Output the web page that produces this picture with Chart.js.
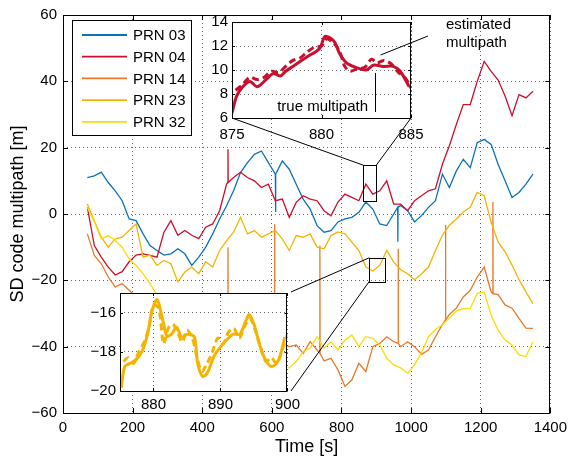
<!DOCTYPE html>
<html>
<head>
<meta charset="utf-8">
<script src="https://cdn.jsdelivr.net/npm/chart.js@4.4.0/dist/chart.umd.min.js"></script>
<style>
  html, body { margin: 0; padding: 0; background: #fff; }
  #wrap { position: relative; width: 573px; height: 460px; overflow: hidden; }
  #wrap canvas { position: absolute; }
</style>
</head>
<body>
<div id="wrap">
  <canvas id="mainChart" width="573" height="460"></canvas>
  <canvas id="zoomTop"></canvas>
  <canvas id="zoomBottom"></canvas>
</div>
<script>
/* ---------- data ---------- */
const timeGrid = [70, 90, 110, 130, 150, 170, 190, 210, 230, 250, 270, 290, 310, 330, 350, 370, 390, 410, 430, 450,
  470, 490, 510, 530, 550, 570, 590, 610, 630, 650, 670, 690, 710, 730, 750, 770, 790, 810, 830, 850,
  870, 890, 910, 930, 950, 970, 990, 1010, 1030, 1050, 1070, 1090, 1110, 1130, 1150, 1170, 1190, 1210, 1230, 1250,
  1270, 1290, 1310, 1330, 1350];

const prn03 = [11, 11.5, 12.6, 9.5, 7, 4, -1.5, -2, -6, -9.5, -11, -12.4, -12, -10.5, -12, -15.5, -13, -10, -6, -1.5,
  2.5, 7, 12.5, 15.5, 18, 19, 15.5, 12, 16, 13.5, 9, 4.5, 1.5, -3.5, -5.5, -5, -2.4, -1.5, -1, 0.5,
  3.6, 1.5, -3, -3.5, 0, 2.6, 1, -2.4, -0.5, 2, 4, 12, 8, 13, 16.5, 14, 21.5, 22.5, 21, 15,
  10, 5, 6.5, 9, 12];
const prn03SpikeTime = [611, 962];
const prn03SpikeTop = [0.6, -8.4];
const prn03SpikeBase = [12, 2];

const prn04 = [2, -9.5, -13, -16, -18.4, -17.4, -14.4, -12.4, -12, -12.5, -13, -5.5, -2, -6.4, -5, -6.4, -7.4, -4, -3, 1,
  9, 11, 12.6, 11, 10, 8, 9, 4, 4.5, -1, 3.5, 5.5, 4.5, 4, 1, -0.5, 3.6, 6, 5, 4,
  9, 6, 7, 10, 3, 3, 1, 4, 5.5, 7, 7.6, 15, 20.6, 27, 33, 33, 40, 46, 43, 40.4,
  35.6, 29.6, 36, 35, 37];
const prn04SpikeTime = [474];
const prn04SpikeTop = [19.5];
const prn04SpikeBase = [9.5];

const prn14 = [-6, -12.5, -15, -19, -22, -21, -23, -25, -28, -30, -31, -33, -34, -35, -36, -37, -38, -38, -39, -38,
  -39, -40, -40, -41, -40, -41, -40, -40, -39, -40, -39.5, -42, -38.5, -41, -44.3, -43.5, -47, -52, -50, -45,
  -47.5, -40, -39, -37, -38.5, -40, -38.5, -40, -42.3, -41, -37, -33.3, -30.3, -28.4, -25, -23, -19, -16, -23.5, -24.3,
  -27.4, -28.4, -31.5, -34.4, -34.5];
// short glitches of PRN 14
const prn14SpikeTime = [474, 608, 738, 963, 1099, 1235];
const prn14SpikeTop = [-10, -3, -9.5, -10.5, -3.3, 3.6];
const prn14SpikeBase = [-39, -40, -42, -39, -32, -24];

const prn23 = [3, -2, -7, -10, -7.5, -7, -5, -3, -13, -12.4, -15.5, -14, -15, -20.5, -17.5, -16, -18, -14.4, -16, -11,
  -8, -5.5, -1, -6, -5, -7, -6, -5, -7.5, -11, -6.5, -7, -6, -10, -10.5, -6.5, -5.4, -6, -8.5, -11,
  -16, -17.2, -15.5, -11, -14.5, -16.8, -18, -19.8, -18, -16, -11, -6.4, -3.4, -1.5, 0.6, 2, 6.5, 5.5, -2.5, -8.4,
  -11.4, -15.4, -19.8, -23.5, -27];

const prn32 = [2, -2.4, -7.5, -6.5, -8, -10, -13.5, -15.5, -18, -21, -24.5, -27, -30, -29, -32, -34, -33, -36, -35, -38,
  -37, -40, -41, -40, -43, -44, -45, -46, -46, -46.4, -44.5, -41.5, -40.4, -37, -40.4, -38.5, -41, -38, -36.5, -40,
  -37, -37.5, -39.5, -43.5, -45.5, -46.4, -48, -45.5, -41.8, -37, -34.8, -33.3, -31.4, -29.3, -28.5, -28.5, -24, -23.5, -30.5, -35,
  -38, -39.5, -42.5, -43, -38.5];

const seriesNames = ["PRN 03", "PRN 04", "PRN 14", "PRN 23", "PRN 32"];

// zoom 1: PRN 04, 875-885 s
const zoomTopTime = [875, 875.25, 875.6, 876.0, 876.4, 876.9, 877.3, 877.7, 878.0, 878.4, 879.2, 879.9, 880.2, 880.7,
  881.0, 881.4, 881.95, 882.5, 882.9, 883.45, 884.0, 884.4, 884.9];
const zoomTopTrue = [6.4, 7.8, 8.6, 9.05, 8.6, 9.2, 9.7, 9.5, 9.9, 10.3, 11.1, 11.8, 12.8, 12.4,
  11.4, 10.6, 10.2, 10.0, 10.4, 10.3, 10.3, 9.9, 8.6];
const zoomTopEstTime = [875.2, 875.6, 876.0, 876.4, 876.8, 877.2, 877.6, 878.0, 878.4, 878.8, 879.2, 879.6, 880.0, 880.3,
  880.7, 881.0, 881.3, 881.6, 882.0, 882.4, 882.8, 883.1, 883.5, 883.9, 884.3, 884.7, 885];
const zoomTopEst = [8.3, 8.8, 9.4, 9.2, 9.4, 9.9, 9.8, 10.3, 10.8, 11.0, 11.5, 11.9, 12.0, 12.6,
  12.2, 11.6, 10.3, 9.9, 10.1, 10.2, 10.9, 10.6, 10.8, 10.5, 9.8, 9.3, 8.5];

// zoom 2: PRN 23, 875-900 s
const zoomBottomTime = [875.2, 875.7, 876.45, 877.4, 878.4, 879.1, 879.8, 880.55, 881.3, 882.0, 882.7, 883.45, 884.2, 885.1,
  886.1, 886.6, 887.3, 888.0, 889.0, 890.0, 890.9, 891.9, 892.9, 893.8, 894.3, 895.0, 895.8, 896.7, 897.7, 898.7, 899.6];
const zoomBottomTrue = [-19.83, -18.75, -18.6, -18.4, -17.9, -17.1, -15.9, -15.33, -16.25, -17.2, -17.1, -16.75, -17.25, -17.1,
  -17.25, -18.6, -19.25, -19.1, -18.25, -17.75, -17.4, -17.1, -17.1, -16.4, -16.1, -16.6, -17.6, -18.4, -18.75, -18.4, -17.25];
const zoomBottomEstTime = [875.5, 876.2, 877.0, 877.8, 878.6, 879.3, 880.0, 880.8, 881.5, 882.2, 882.9, 883.6, 884.3, 885.0,
  885.8, 886.5, 887.2, 888.0, 888.8, 889.6, 890.4, 891.2, 892.0, 892.8, 893.6, 894.4, 895.2, 896.0, 896.8, 897.6, 898.4, 899.2, 900];
const zoomBottomEst = [-18.5, -18.3, -18.6, -18.0, -17.5, -16.8, -15.6, -15.8, -17.6, -16.8, -16.6, -17.0, -17.5, -16.9,
  -17.3, -18.3, -19.0, -18.6, -18.0, -17.3, -17.6, -17.0, -16.8, -17.3, -16.7, -16.3, -16.9, -17.8, -18.5, -18.3, -18.6, -17.9, -17.1];

/* ---------- styles / layout ---------- */
const lineColors = ["#0a72bd", "#c8102e", "#e8792b", "#f5b301", "#fddc05"];
const FONT = '"Liberation Sans", Arial, Helvetica, sans-serif';
Chart.defaults.font.family = FONT;
Chart.defaults.color = "#000";

const mainArea = { left: 63, top: 12, right: 556, bottom: 413 };
const topInsetArea = { left: 232, top: 22, right: 411, bottom: 118 };
const bottomInsetArea = { left: 120, top: 292, right: 291, bottom: 391 };
const topCanvas = { left: 190, top: 5, width: 335, height: 135 };
const bottomCanvas = { left: 75, top: 280, width: 230, height: 140 };

function toPoints(times, values) {
  return times.map((t, i) => ({ x: t, y: values[i] }));
}
// grid points plus narrow one-sample glitches
function withSpikes(times, values, spikeT, spikeTop, spikeBase) {
  const pts = toPoints(times, values);
  spikeT.forEach((t, i) => {
    pts.push({ x: t - 0.5, y: spikeBase[i] }, { x: t, y: spikeTop[i] }, { x: t + 0.5, y: spikeBase[i] });
  });
  return pts.sort((a, b) => a.x - b.x);
}
const minusSign = v => String(v).replace("-", "\u2212");

function drawFrame(chart, tickLen) {
  const { ctx, chartArea: a, scales: { x, y } } = chart;
  ctx.save();
  ctx.strokeStyle = "#000";
  ctx.lineWidth = 1;
  ctx.beginPath();
  x.ticks.forEach(t => {
    const px = Math.round(x.getPixelForValue(t.value)) + 0.5;
    ctx.moveTo(px, a.bottom); ctx.lineTo(px, a.bottom - tickLen);
    ctx.moveTo(px, a.top); ctx.lineTo(px, a.top + tickLen);
  });
  y.ticks.forEach(t => {
    const py = Math.round(y.getPixelForValue(t.value)) + 0.5;
    ctx.moveTo(a.left, py); ctx.lineTo(a.left + tickLen, py);
    ctx.moveTo(a.right, py); ctx.lineTo(a.right - tickLen, py);
  });
  ctx.stroke();
  ctx.strokeRect(Math.round(a.left) + 0.5, Math.round(a.top) + 0.5, Math.round(a.width) - 1, Math.round(a.height));
  ctx.restore();
}

const whiteArea = {
  id: "whiteArea",
  beforeDraw(chart) {
    const a = chart.chartArea;
    chart.ctx.save();
    chart.ctx.fillStyle = "#fff";
    chart.ctx.fillRect(a.left, a.top, a.width, a.height);
    chart.ctx.restore();
  }
};

/* ---------- main chart ---------- */
const mainSeries = [
  withSpikes(timeGrid, prn03, prn03SpikeTime, prn03SpikeTop, prn03SpikeBase),
  withSpikes(timeGrid, prn04, prn04SpikeTime, prn04SpikeTop, prn04SpikeBase),
  withSpikes(timeGrid, prn14, prn14SpikeTime, prn14SpikeTop, prn14SpikeBase),
  toPoints(timeGrid, prn23),
  toPoints(timeGrid, prn32)
];

const mainDecor = {
  id: "mainDecor",
  afterDraw(chart) {
    const { ctx, chartArea: a, scales: { x, y } } = chart;
    drawFrame(chart, 5);

    // small zoom boxes and connectors to the insets
    ctx.save();
    ctx.strokeStyle = "#000";
    ctx.lineWidth = 1;
    const box1 = { l: x.getPixelForValue(863), r: x.getPixelForValue(900), t: y.getPixelForValue(14.7), b: y.getPixelForValue(3.9) };
    const box2 = { l: x.getPixelForValue(880), r: x.getPixelForValue(926), t: y.getPixelForValue(-13.2), b: y.getPixelForValue(-20.3) };
    [box1, box2].forEach(b => ctx.strokeRect(Math.round(b.l) + 0.5, Math.round(b.t) + 0.5, Math.round(b.r - b.l), Math.round(b.b - b.t)));
    ctx.beginPath();
    ctx.moveTo(topInsetArea.left, topInsetArea.bottom); ctx.lineTo(box1.l, box1.t);
    ctx.moveTo(topInsetArea.right, topInsetArea.bottom); ctx.lineTo(box1.r, box1.t);
    ctx.moveTo(bottomInsetArea.right, bottomInsetArea.top); ctx.lineTo(box2.l, box2.t);
    ctx.moveTo(bottomInsetArea.right, bottomInsetArea.bottom); ctx.lineTo(box2.l, box2.b);
    ctx.stroke();

    // legend box
    const lx = a.left + 9, ly = a.top + 5, lw = 119, lh = 115;
    ctx.fillStyle = "#fff";
    ctx.fillRect(lx, ly, lw, lh);
    ctx.strokeRect(lx + 0.5, ly + 0.5, lw, lh);
    ctx.font = "15px " + FONT;
    ctx.textBaseline = "middle";
    ctx.textAlign = "left";
    seriesNames.forEach((name, i) => {
      const ry = ly + 15 + i * 21.7;
      ctx.strokeStyle = lineColors[i];
      ctx.lineWidth = 1.8;
      ctx.beginPath();
      ctx.moveTo(lx + 10, ry); ctx.lineTo(lx + 55, ry);
      ctx.stroke();
      ctx.fillStyle = "#000";
      ctx.fillText(name, lx + 61, ry + 1);
    });
    ctx.restore();
  }
};

new Chart(document.getElementById("mainChart"), {
  type: "line",
  data: {
    datasets: mainSeries.map((pts, i) => ({
      label: seriesNames[i],
      data: pts,
      borderColor: lineColors[i],
      borderWidth: 1.3,
      pointRadius: 0,
      tension: 0,
      order: seriesNames.length - i
    }))
  },
  options: {
    responsive: false,
    animation: false,
    devicePixelRatio: 1,
    layout: { padding: { left: 0, top: mainArea.top, right: 573 - mainArea.right, bottom: 0 } },
    plugins: { legend: { display: false }, tooltip: { enabled: false } },
    scales: {
      x: {
        type: "linear", min: 0, max: 1400,
        ticks: { stepSize: 200, padding: 6, font: { size: 15 }, maxRotation: 0, callback: minusSign },
        grid: { drawTicks: false, color: "rgba(0,0,0,0.6)", lineWidth: 1 },
        border: { display: false, dash: [1, 3] },
        title: { display: true, text: "Time [s]", font: { size: 18 }, padding: { top: 0, bottom: 2 } },
        afterFit: s => { s.height = 460 - mainArea.bottom; }
      },
      y: {
        type: "linear", min: -60, max: 60,
        ticks: { stepSize: 20, padding: 6, font: { size: 15 }, callback: minusSign },
        grid: { drawTicks: false, color: "rgba(0,0,0,0.6)", lineWidth: 1 },
        border: { display: false, dash: [1, 3] },
        title: { display: true, text: "SD code multipath [m]", font: { size: 18 }, padding: { top: 7, bottom: 0 } },
        afterFit: s => { s.width = mainArea.left; }
      }
    }
  },
  plugins: [mainDecor]
});

/* ---------- insets ---------- */
function makeInset(canvasId, place, area, cfg) {
  const cv = document.getElementById(canvasId);
  cv.width = place.width; cv.height = place.height;
  cv.style.left = place.left + "px"; cv.style.top = place.top + "px";
  const solidColor = cfg.color;
  return new Chart(cv, {
    type: "line",
    data: {
      datasets: [
        { data: cfg.truePts, borderColor: solidColor, borderWidth: 3, pointRadius: 0, tension: 0.3 },
        { data: cfg.estPts, borderColor: solidColor, borderWidth: 3, borderDash: [7, 4], pointRadius: 0, tension: 0.3 }
      ]
    },
    options: {
      responsive: false,
      animation: false,
      devicePixelRatio: 1,
      layout: { padding: { left: 0, top: area.top - place.top, right: place.width - (area.right - place.left), bottom: 0 } },
      plugins: { legend: { display: false }, tooltip: { enabled: false } },
      scales: {
        x: {
          type: "linear", min: cfg.xMin, max: cfg.xMax,
          ticks: { padding: cfg.xPad, font: { size: 15 }, maxRotation: 0, autoSkip: false, callback: minusSign },
          afterBuildTicks: s => { s.ticks = cfg.xTicks.map(v => ({ value: v })); },
          grid: { drawTicks: false, color: "rgba(0,0,0,0.6)", lineWidth: 1 },
          border: { display: false, dash: [1, 3] },
          afterFit: s => { s.height = place.height - (area.bottom - place.top); }
        },
        y: {
          type: "linear", min: cfg.yMin, max: cfg.yMax,
          ticks: { padding: 4, font: { size: 15 }, autoSkip: false, callback: minusSign },
          afterBuildTicks: s => { s.ticks = cfg.yTicks.map(v => ({ value: v })); },
          grid: { drawTicks: false, color: "rgba(0,0,0,0.6)", lineWidth: 1 },
          border: { display: false, dash: [1, 3] },
          afterFit: s => { s.width = area.left - place.left; }
        }
      }
    },
    plugins: [whiteArea, {
      id: "insetDecor",
      afterDraw(chart) {
        drawFrame(chart, 3);
        if (cfg.annotate) cfg.annotate(chart);
      }
    }]
  });
}

makeInset("zoomTop", topCanvas, topInsetArea, {
  color: lineColors[1],
  truePts: toPoints(zoomTopTime, zoomTopTrue),
  estPts: toPoints(zoomTopEstTime, zoomTopEst),
  xMin: 875, xMax: 885, xTicks: [875, 880, 885], xPad: 8,
  yMin: 6, yMax: 14, yTicks: [6, 8, 10, 12, 14],
  annotate(chart) {
    const { ctx, chartArea: a, scales: { x, y } } = chart;
    ctx.save();
    ctx.strokeStyle = "#000";
    ctx.lineWidth = 1;
    ctx.beginPath();
    ctx.moveTo(x.getPixelForValue(883.3), y.getPixelForValue(11.25));
    ctx.lineTo(a.right + 17, a.top + 14);
    const vx = Math.round(x.getPixelForValue(883.0)) + 0.5;
    ctx.moveTo(vx, y.getPixelForValue(9.75));
    ctx.lineTo(vx, y.getPixelForValue(6.5));
    ctx.stroke();
    ctx.fillStyle = "#000";
    ctx.font = "15px " + FONT;
    ctx.textBaseline = "middle";
    ctx.textAlign = "left";
    ctx.fillText("estimated", a.right + 35, a.top + 3);
    ctx.fillText("multipath", a.right + 35, a.top + 21);
    ctx.textAlign = "right";
    ctx.fillText("true multipath", x.getPixelForValue(882.6), y.getPixelForValue(6.92));
    ctx.restore();
  }
});

makeInset("zoomBottom", bottomCanvas, bottomInsetArea, {
  color: lineColors[3],
  truePts: toPoints(zoomBottomTime, zoomBottomTrue),
  estPts: toPoints(zoomBottomEstTime, zoomBottomEst),
  xMin: 875, xMax: 900, xTicks: [880, 890, 900], xPad: 5,
  yMin: -20, yMax: -15, yTicks: [-20, -18, -16]
});
</script>
</body>
</html>
